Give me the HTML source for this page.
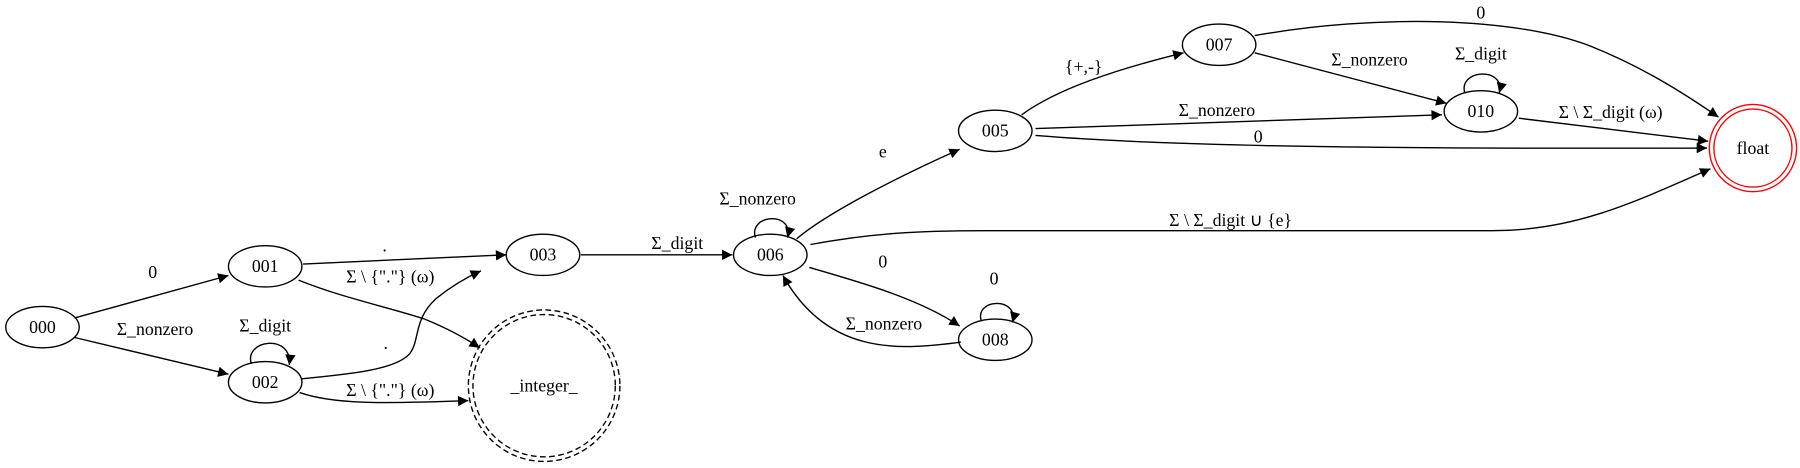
<!DOCTYPE html>
<html><head><meta charset="utf-8"><style>
html,body{margin:0;padding:0;background:#fff;}
svg{display:block;font-family:"Liberation Serif",serif;font-size:15.5px;}
text{text-anchor:middle;fill:#000;}
.e{fill:none;stroke:#000;stroke-width:1.2;}
.n{fill:none;stroke:#000;stroke-width:1.2;}
</style></head><body>
<svg width="1800" height="468" viewBox="0 0 1568 407.7" preserveAspectRatio="none">
<defs><marker id="a" viewBox="0 0 10 10" refX="10" refY="5" markerWidth="11" markerHeight="9" markerUnits="userSpaceOnUse" orient="auto"><path d="M0,0 L10,5 L0,10 z" fill="#000"/></marker></defs>

<g>
<path class="e" marker-end="url(#a)" d="M65,277 L199,240"/>
<text x="133" y="242">0</text>
<path class="e" marker-end="url(#a)" d="M65,294 L199,326"/>
<text x="135" y="292">Σ_nonzero</text>
<path class="e" marker-end="url(#a)" d="M219,317 C212,296 255,290 252,318"/>
<text x="231" y="289">Σ_digit</text>
<path class="e" marker-end="url(#a)" d="M264,230 L441,222"/>
<text x="335" y="219">.</text>
<path class="e" marker-end="url(#a)" d="M260,244 C300,260 340,268 370,278 C392,287 406,295 418,303"/>
<text x="340" y="246">Σ \ {"."} (ω)</text>
<path class="e" marker-end="url(#a)" d="M263,330 C305,326 345,322 357,308 C366,296 360,278 380,260 C395,248 410,240 419,236"/>
<text x="336" y="304">.</text>
<path class="e" marker-end="url(#a)" d="M261,342 C290,352 330,352 408,349"/>
<text x="340" y="345">Σ \ {"."} (ω)</text>
<path class="e" marker-end="url(#a)" d="M506,222 L638,222"/>
<text x="590" y="217">Σ_digit</text>
<path class="e" marker-end="url(#a)" d="M658,207 C652,186 692,184 686,207"/>
<text x="660" y="178">Σ_nonzero</text>
<path class="e" marker-end="url(#a)" d="M694,208 C720,186 780,155 836,130"/>
<text x="769" y="137">e</text>
<path class="e" marker-end="url(#a)" d="M890,100 C920,78 970,61 1031,46"/>
<text x="944" y="63">{+,-}</text>
<path class="e" marker-end="url(#a)" d="M1093,46 L1260,90"/>
<text x="1193" y="57">Σ_nonzero</text>
<path class="e" marker-end="url(#a)" d="M1276,81 C1270,60 1312,58 1306,81"/>
<text x="1290" y="52">Σ_digit</text>
<path class="e" marker-end="url(#a)" d="M902,112 L1256,100"/>
<text x="1060" y="101">Σ_nonzero</text>
<path class="e" marker-end="url(#a)" d="M902,118 C1000,126 1150,130 1487,129"/>
<text x="1096" y="124">0</text>
<path class="e" marker-end="url(#a)" d="M1093,31 C1200,12 1320,15 1385,40 C1430,58 1465,80 1497,102"/>
<text x="1290" y="16">0</text>
<path class="e" marker-end="url(#a)" d="M1323,103 L1488,123"/>
<text x="1403" y="103">Σ \ Σ_digit (ω)</text>
<path class="e" marker-end="url(#a)" d="M706,213 C760,203 800,201 860,201 L1300,201 C1370,201 1420,178 1490,147"/>
<text x="1072" y="197">Σ \ Σ_digit ∪ {e}</text>
<path class="e" marker-end="url(#a)" d="M705,233 C750,246 800,260 836,284"/>
<text x="769" y="233">0</text>
<path class="e" marker-end="url(#a)" d="M837,298 C780,306 720,308 682,240"/>
<text x="770" y="287">Σ_nonzero</text>
<path class="e" marker-end="url(#a)" d="M855,280 C848,260 888,258 882,281"/>
<text x="866" y="248">0</text>
</g>

<g>
<g><ellipse class="n" cx="37" cy="285" rx="32" ry="18"/><text x="37" y="290">000</text></g>
<g><ellipse class="n" cx="231" cy="232" rx="32" ry="18"/><text x="231" y="237">001</text></g>
<g><ellipse class="n" cx="231" cy="333" rx="32" ry="18"/><text x="231" y="338">002</text></g>
<g><ellipse class="n" cx="473" cy="222" rx="32" ry="18"/><text x="473" y="227">003</text></g>
<g><circle class="n" cx="474" cy="336" r="66" stroke-dasharray="5,3"/><circle class="n" cx="474" cy="336" r="62" stroke-dasharray="5,3"/><text x="474" y="341">_integer_</text></g>
<g><ellipse class="n" cx="671" cy="222" rx="32" ry="18"/><text x="671" y="227">006</text></g>
<g><ellipse class="n" cx="867" cy="114" rx="32" ry="18"/><text x="867" y="119">005</text></g>
<g><ellipse class="n" cx="1062" cy="39" rx="32" ry="18"/><text x="1062" y="44">007</text></g>
<g><ellipse class="n" cx="1290" cy="97" rx="32" ry="18"/><text x="1290" y="102">010</text></g>
<g><ellipse class="n" cx="867" cy="296" rx="32" ry="18"/><text x="867" y="301">008</text></g>
<g><circle cx="1527" cy="129" r="38" fill="none" stroke="#f00" stroke-width="1.2"/><circle cx="1527" cy="129" r="34" fill="none" stroke="#f00" stroke-width="1.2"/><text x="1527" y="134">float</text></g>
</g>
</svg>
</body></html>
